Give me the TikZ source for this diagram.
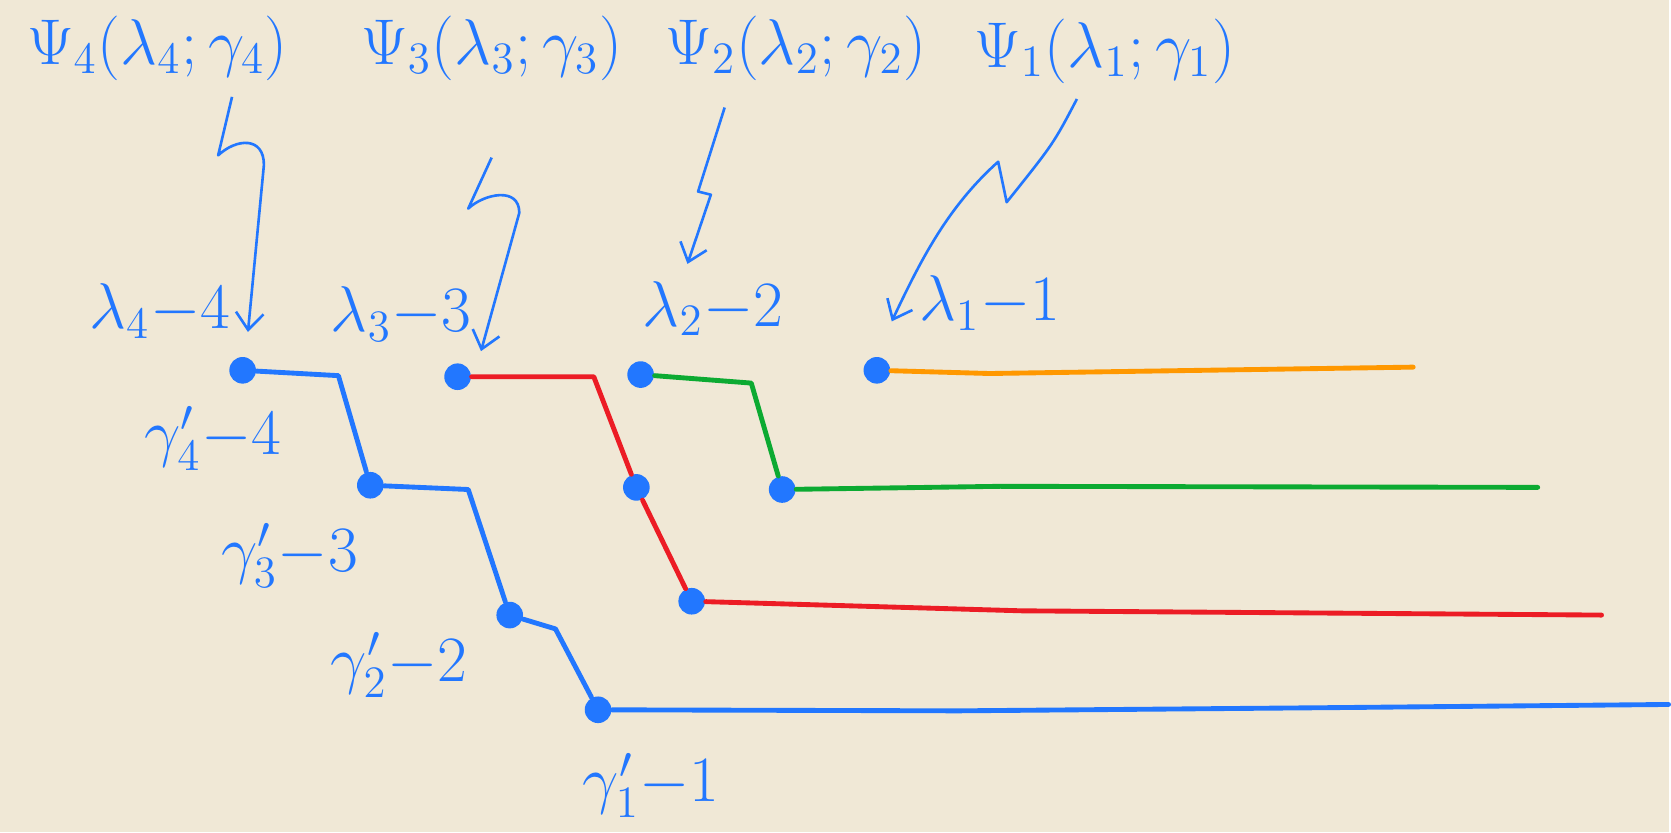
\documentclass[tikz,border=0pt]{standalone}
\usepackage{xcolor}
\usepackage{amssymb}
\usepackage{tikz}
\usetikzlibrary{arrows.meta}
\definecolor{paper}{RGB}{240,232,214}
\definecolor{ink}{RGB}{34,119,255}
\definecolor{inkred}{RGB}{236,28,37}
\definecolor{inkgreen}{RGB}{12,170,50}
\definecolor{inkorange}{RGB}{255,152,0}

\begin{document}
\begin{tikzpicture}[x=0.01cm,y=-0.01cm,
  dot/.style={circle,fill=ink,inner sep=0pt,minimum size=0.25cm},
  lbl/.style={text=ink,font=\LARGE,inner sep=0pt},
  wire/.style={line width=1.3pt,line cap=round,line join=round},
  hint/.style={ink,line width=0.7pt,line join=round,-{Straight Barb[length=1.6mm,width=2.6mm]}}]
\fill[paper] (0,0) rectangle (1568,782);
\node[lbl] (psi4) at (148,45) {$\Psi_4(\lambda_4;\gamma_4)$};
\node[lbl] (psi3) at (462,45) {$\Psi_3(\lambda_3;\gamma_3)$};
\node[lbl] (psi2) at (748,45) {$\Psi_2(\lambda_2;\gamma_2)$};
\node[lbl] (psi1) at (1038,48) {$\Psi_1(\lambda_1;\gamma_1)$};
\node[lbl] (lam4) at (150,292) {$\lambda_4{-}4$};
\node[lbl] (lam3) at (377,295) {$\lambda_3{-}3$};
\node[lbl] (lam2) at (670,290) {$\lambda_2{-}2$};
\node[lbl] (lam1) at (930,285) {$\lambda_1{-}1$};
\node[lbl] (gam4) at (200,412) {$\gamma'_4{-}4$};
\node[lbl] (gam3) at (272,522) {$\gamma'_3{-}3$};
\node[lbl] (gam2) at (375,625) {$\gamma'_2{-}2$};
\node[lbl] (gam1) at (612,738) {$\gamma'_1{-}1$};
\node[dot] (b4) at (228,348) {};
\node[dot] (b3) at (348,456) {};
\node[dot] (b2) at (479,578) {};
\node[dot] (b1) at (562,667) {};
\node[dot] (r1) at (430,354) {};
\node[dot] (r2) at (598,458) {};
\node[dot] (r3) at (650,565) {};
\node[dot] (g1) at (602,352) {};
\node[dot] (g2) at (735,460) {};
\node[dot] (o1) at (824,348) {};
\coordinate (b4c) at (318,353);
\coordinate (b3c) at (440,460);
\coordinate (b2c) at (522,591);
\coordinate (b1e) at (1568,662);
\coordinate (r1c) at (558,354);
\coordinate (r3e) at (1505,578);
\coordinate (g1c) at (706,360);
\coordinate (g2e) at (1445,458);
\coordinate (o1e) at (1328,345);
\coordinate (t4) at (233,312);
\coordinate (t3) at (452,330);
\coordinate (t2) at (646,248);
\coordinate (t1) at (838,302);
\draw[wire,ink] (b4) -- (b4c) -- (b3) -- (b3c) -- (b2) -- (b2c) -- (b1) -- (900,668) -- (1250,665) -- (b1e);
\draw[wire,inkred] (r1) -- (r1c) -- (r2) -- (r3) -- (960,574) -- (r3e);
\draw[wire,inkgreen] (g1) -- (g1c) -- (g2) -- (940,457) -- (g2e);
\draw[wire,inkorange] (o1) -- (930,351) -- (o1e);
\draw[hint] ([xshift=0.7cm,yshift=-0.15cm]psi4.south) -- (205,146) .. controls (222,130) and (248,128) .. (248,155) -- (t4);
\draw[hint] ([yshift=-0.72cm]psi3.south) -- (440,196) .. controls (455,182) and (488,175) .. (488,200) -- (t3);
\draw[hint] ([xshift=-0.67cm,yshift=-0.25cm]psi2.south) -- (656,180) -- (668,183) -- (t2);
\draw[hint] ([xshift=-0.26cm,yshift=-0.14cm]psi1.south) .. controls (990,135) .. (946,190) -- (938,152) .. controls (890,195) and (865,245) .. (t1);
\end{tikzpicture}
\end{document}
